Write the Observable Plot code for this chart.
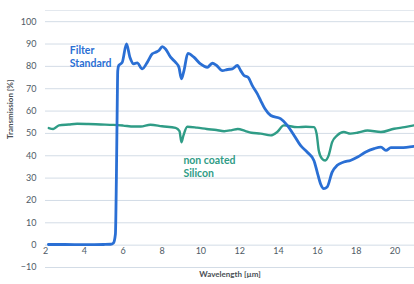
<!DOCTYPE html>
<html>
<head>
<meta charset="utf-8">
<script src="https://cdn.jsdelivr.net/npm/d3@7"></script>
<script src="https://cdn.jsdelivr.net/npm/@observablehq/plot@0.6"></script>
<style>
  html, body { margin: 0; padding: 0; background: #fff; }
  #chart svg { display: block; }
</style>
</head>
<body>
<div id="chart"></div>
<script>
// Filter Standard (blue)
const filterWavelength = [2.15, 3.0, 4.0, 5.0, 5.35, 5.5, 5.6, 5.65, 5.69, 5.72, 5.77, 5.95, 6.17, 6.35, 6.55, 6.72, 6.98, 7.24, 7.5, 7.67, 7.84, 8.01, 8.18, 8.44, 8.7, 8.87, 9.0, 9.13, 9.33, 9.64, 9.98, 10.33, 10.59, 10.81, 11.11, 11.37, 11.62, 11.88, 12.05, 12.22, 12.43, 12.65, 12.91, 13.08, 13.3, 13.6, 14.1, 14.45, 14.8, 15.13, 15.47, 15.82, 15.99, 16.16, 16.33, 16.5, 16.76, 17.02, 17.36, 17.7, 18.07, 18.49, 18.92, 19.27, 19.53, 19.78, 20.3, 20.98];
const filterTransmission = [0.3, 0.3, 0.2, 0.3, 0.4, 1, 5, 30, 60, 78, 80.4, 81.8, 90, 84, 81.1, 81.6, 78.9, 81.8, 85.6, 86.3, 87.1, 88.8, 87.8, 84.1, 81.8, 79.6, 74.4, 78.1, 85.8, 84.1, 81.1, 79.6, 81.4, 80.4, 78.1, 78.6, 78.9, 80.4, 78.1, 75.9, 75.1, 71.4, 67.7, 64.7, 61, 58, 56.6, 53.6, 49.1, 44.6, 41.7, 37.9, 32.7, 27.5, 25.3, 26, 32.7, 35.7, 37.2, 37.9, 39.4, 41.7, 43.2, 43.9, 42.4, 43.6, 43.6, 44.2];

// non coated Silicon (teal)
const siliconWavelength = [2.17, 2.4, 2.69, 3.2, 3.63, 4.2, 4.84, 5.5, 6.0, 6.55, 6.9, 7.4, 8.0, 8.7, 8.9, 9.0, 9.1, 9.3, 9.8, 10.3, 10.8, 11.2, 11.6, 11.9, 12.3, 12.6, 13.08, 13.6, 13.93, 14.27, 14.96, 15.4, 15.82, 15.96, 16.07, 16.24, 16.4, 16.58, 16.76, 17.02, 17.36, 17.7, 18.1, 18.58, 19.27, 19.95, 20.5, 20.98];
const siliconTransmission = [52.4, 52, 53.6, 54, 54.3, 54.2, 54, 53.8, 53.5, 53.1, 53.1, 53.9, 53.2, 52.5, 51, 46, 49, 53, 52.6, 52, 51.5, 51, 51.5, 52, 51, 50.3, 49.9, 49.1, 50.6, 53.6, 52.8, 53, 52.8, 49.9, 42.4, 38.7, 37.9, 40.2, 46.1, 49.1, 50.6, 49.9, 50.4, 51.3, 50.6, 52.1, 52.8, 53.6];

const xTicks = [2, 4, 6, 8, 10, 12, 14, 16, 18, 20];
const yTicks = [-10, 0, 10, 20, 30, 40, 50, 60, 70, 80, 90, 100];

const seriesNames = ["Filter\nStandard", "non coated\nSilicon"];
const labelX = [3.25, 9.1];
const labelY = [84.6, 35.2];
const seriesColors = ["#2a6fd4", "#2f9c86"];

const filterData = filterWavelength.map((w, i) => ({w, t: filterTransmission[i]}));
const siliconData = siliconWavelength.map((w, i) => ({w, t: siliconTransmission[i]}));
const labels = seriesNames.map((name, i) => ({name, x: labelX[i], y: labelY[i], color: seriesColors[i]}));

const yMax = 105;

const chart = Plot.plot({
  width: 414,
  height: 284,
  marginLeft: 45,
  marginRight: 0,
  marginTop: 10,
  marginBottom: 17,
  style: {fontFamily: "Lato, 'Open Sans', sans-serif", background: "#fff", color: "#555"},
  x: {domain: [2, 21]},
  y: {domain: [-10, yMax]},
  marks: [
    Plot.ruleY(yTicks, {stroke: "#d3dce6", strokeWidth: 1}),
    Plot.ruleY([yMax], {stroke: "#e3e8ee", strokeWidth: 1}),
    Plot.axisY({ticks: yTicks, tickSize: 0, tickPadding: 9, fontSize: 9, fill: "#4f5b66", label: null}),
    Plot.axisX({ticks: xTicks, tickSize: 0, tickPadding: 0, dy: -20, fontSize: 9, fill: "#4f5b66", label: null}),
    Plot.text(["Wavelength [µm]"], {frameAnchor: "bottom", dy: 9, fontSize: 8, fontWeight: "bold", fill: "#4a4f55"}),
    Plot.text(["Transmission [%]"], {frameAnchor: "left", rotate: -90, dx: -35, fontSize: 8, fontWeight: "bold", fill: "#4a4f55"}),
    Plot.line(siliconData, {x: "w", y: "t", stroke: seriesColors[1], strokeWidth: 2.4, curve: "monotone-x"}),
    Plot.line(filterData, {x: "w", y: "t", stroke: seriesColors[0], strokeWidth: 2.8, curve: "monotone-x"}),
    Plot.text(labels, {x: "x", y: "y", text: "name", fill: "color", textAnchor: "start", fontSize: 10.5, fontWeight: "bold", lineHeight: 1.25})
  ]
});
document.getElementById("chart").appendChild(chart);
</script>
</body>
</html>
